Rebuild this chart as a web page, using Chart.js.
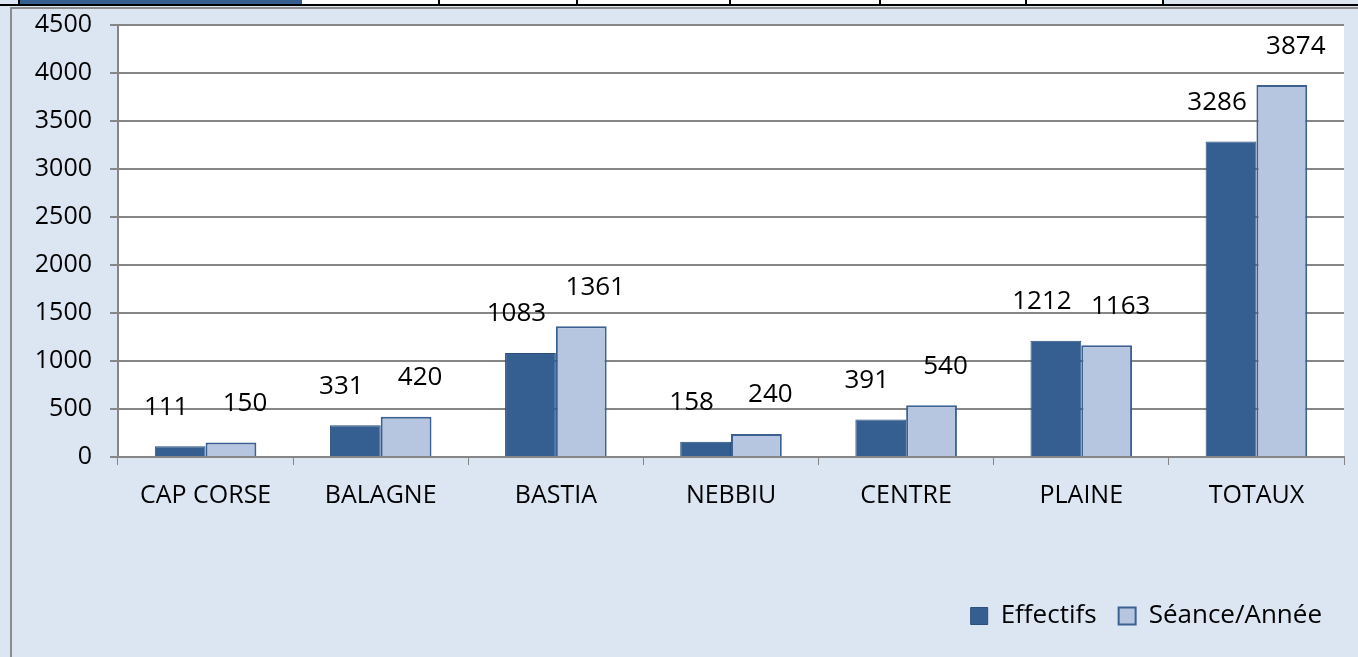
<!DOCTYPE html>
<html>
<head>
<meta charset="utf-8">
<script src="https://cdn.jsdelivr.net/npm/chart.js@4.4.1/dist/chart.umd.min.js"></script>
<style>
  html, body { margin: 0; padding: 0; }
  body { width: 1358px; height: 657px; background: #dce6f2; position: relative; overflow: hidden; font-family: "Open Sans", sans-serif; }
  .bande { position: absolute; left: 0; top: 0; width: 1358px; height: 4px; border-bottom: 2px solid #000; }
  .cellule { position: absolute; top: 0; height: 4px; background: #fff; border-right: 2px solid #000; }
  .cadre { position: absolute; left: 10px; top: 7px; width: 1348px; height: 650px; border-left: 2px solid #8c8c8c; border-top: 2px solid #8c8c8c; }
  #graphique { position: absolute; left: 12px; top: -8px; }
</style>
</head>
<body>
<div class="bande"></div>
<div class="cellule" style="left:18px;width:282px;background:#365f91;border-left:2px solid #000"></div>
<div class="cellule" style="left:302px;width:136px"></div>
<div class="cellule" style="left:440px;width:136px"></div>
<div class="cellule" style="left:578px;width:151px"></div>
<div class="cellule" style="left:731px;width:148px"></div>
<div class="cellule" style="left:881px;width:144px"></div>
<div class="cellule" style="left:1027px;width:135px"></div>
<div class="cadre"></div>
<canvas id="graphique" width="1346" height="665"></canvas>
<script>
const secteurs = ["CAP CORSE", "BALAGNE", "BASTIA", "NEBBIU", "CENTRE", "PLAINE", "TOTAUX"];
const effectifs = [111, 331, 1083, 158, 391, 1212, 3286];
const seances = [150, 420, 1361, 240, 540, 1163, 3874];
const graduations = [0, 500, 1000, 1500, 2000, 2500, 3000, 3500, 4000, 4500];

const police = "'Open Sans', sans-serif";

const fondBlanc = {
    id: "fondBlanc",
    beforeDraw: (chart) => {
        const { ctx, chartArea } = chart;
        ctx.save();
        ctx.fillStyle = "#ffffff";
        ctx.fillRect(chartArea.left, chartArea.top, chartArea.right - chartArea.left, chartArea.bottom - chartArea.top);
        ctx.restore();
    },
};

const etiquettes = {
    id: "etiquettes",
    afterDatasetsDraw: (chart) => {
        const ctx = chart.ctx;
        ctx.save();
        ctx.font = "26px " + police;
        ctx.fillStyle = "#000";
        ctx.textAlign = "center";
        ctx.textBaseline = "bottom";
        chart.data.datasets.forEach((ds, i) => {
            chart.getDatasetMeta(i).data.forEach((barre, j) => {
                const dx = i === 0 ? -14 : 14;
                ctx.fillText(ds.data[j], barre.x + dx, barre.y - 26);
            });
        });
        ctx.restore();
    },
};

new Chart("graphique", {
    type: "bar",
    data: {
        labels: secteurs,
        datasets: [
            {
                label: "Effectifs",
                data: effectifs,
                backgroundColor: "#365f91",
                borderColor: "#2c4f7c",
                borderWidth: 1,
            },
            {
                label: "Séance/Année",
                data: seances,
                backgroundColor: "#b7c6e0",
                borderColor: "#3b6193",
                borderWidth: 2,
            },
        ],
    },
    options: {
        responsive: false,
        animation: false,
        layout: { padding: { top: 0, right: 14, left: 0, bottom: 18 } },
        datasets: { bar: { categoryPercentage: 0.58, barPercentage: 1 } },
        plugins: {
            tooltip: { enabled: false },
            legend: {
                position: "bottom",
                align: "end",
                labels: {
                    color: "#000",
                    font: { family: police, size: 26 },
                    boxWidth: 17,
                    boxHeight: 17,
                    padding: 22,
                    useBorderRadius: false,
                },
            },
        },
        scales: {
            x: {
                grid: { drawOnChartArea: false, drawTicks: true, tickLength: 8, color: "#868686", offset: true },
                border: { color: "#868686", width: 2 },
                ticks: { color: "#000", font: { family: police, size: 25 }, padding: 16 },
                afterFit: (scale) => { scale.height = 124; },
            },
            y: {
                min: 0,
                max: 4500,
                afterBuildTicks: (scale) => { scale.ticks = graduations.map((v) => ({ value: v })); },
                grid: { color: "#868686", lineWidth: 2, tickLength: 8 },
                border: { color: "#868686", width: 2 },
                ticks: { color: "#000", font: { family: police, size: 25 }, padding: 18, callback: (v) => String(v) },
                afterFit: (scale) => { scale.width = 106; },
            },
        },
    },
    plugins: [fondBlanc, etiquettes],
});
</script>
</body>
</html>
